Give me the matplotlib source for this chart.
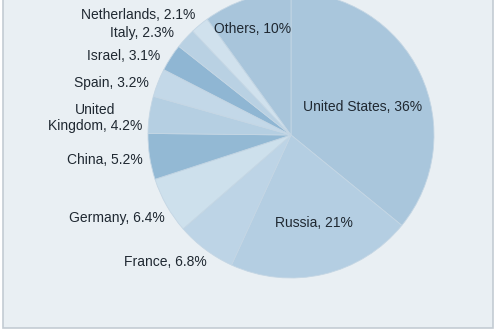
import matplotlib.pyplot as plt
from matplotlib.patches import Rectangle

# data
countries = ['United States', 'Russia', 'France', 'Germany', 'China',
             'United\nKingdom', 'Spain', 'Israel', 'Italy', 'Netherlands', 'Others']
shares = [36, 21, 6.8, 6.4, 5.2, 4.2, 3.2, 3.1, 2.3, 2.1, 10]
share_labels = ['36%', '21%', '6.8%', '6.4%', '5.2%', '4.2%', '3.2%', '3.1%', '2.3%', '2.1%', '10%']

colors = ['#a9c6dc', '#b4cee2', '#bdd4e6', '#cde0ec', '#93b9d4', '#b5cfe2',
          '#c3d8e8', '#8fb6d3', '#b9d1e3', '#d0e1ed', '#a8c5db']

# label anchor points in pixel coords (x, y from top) and alignment
label_pos = [(363, 107, 'center'), (314, 223, 'center'), (207, 262, 'right'),
             (165, 218, 'right'), (143, 160, 'right'), (95, 118, 'center'),
             (149, 83, 'right'), (160, 56, 'right'), (174, 33, 'right'),
             (195, 15, 'right'), (253, 29, 'center')]

W, H = 500, 330
fig = plt.figure(figsize=(W / 100, H / 100), dpi=100, facecolor='white')
ax = fig.add_axes([0, 0, 1, 1])

# panel background
ax.add_patch(Rectangle((3, H - 328), 490, 340, facecolor='#e9eff3',
                       edgecolor='#c3ccd3', linewidth=1.2, zorder=0))

cx, cy, r = 291, H - 135, 143
wedges, _ = ax.pie(shares, colors=colors, startangle=90, counterclock=False,
                   center=(cx, cy), radius=r, frame=True,
                   wedgeprops=dict(edgecolor='#c4d6e4', linewidth=0.6))
for w in wedges:
    w.set_zorder(1)
ax.set_xlim(0, W)
ax.set_ylim(0, H)
ax.set_aspect('auto')
ax.axis('off')

for name, pct, (x, y, ha) in zip(countries, share_labels, label_pos):
    ax.text(x, H - y, f'{name}, {pct}', ha=ha, va='center', fontsize=10,
            family='Liberation Sans', color='#1f2831', linespacing=1.1, zorder=3)

fig.savefig('out.png', dpi=100, facecolor=fig.get_facecolor())
